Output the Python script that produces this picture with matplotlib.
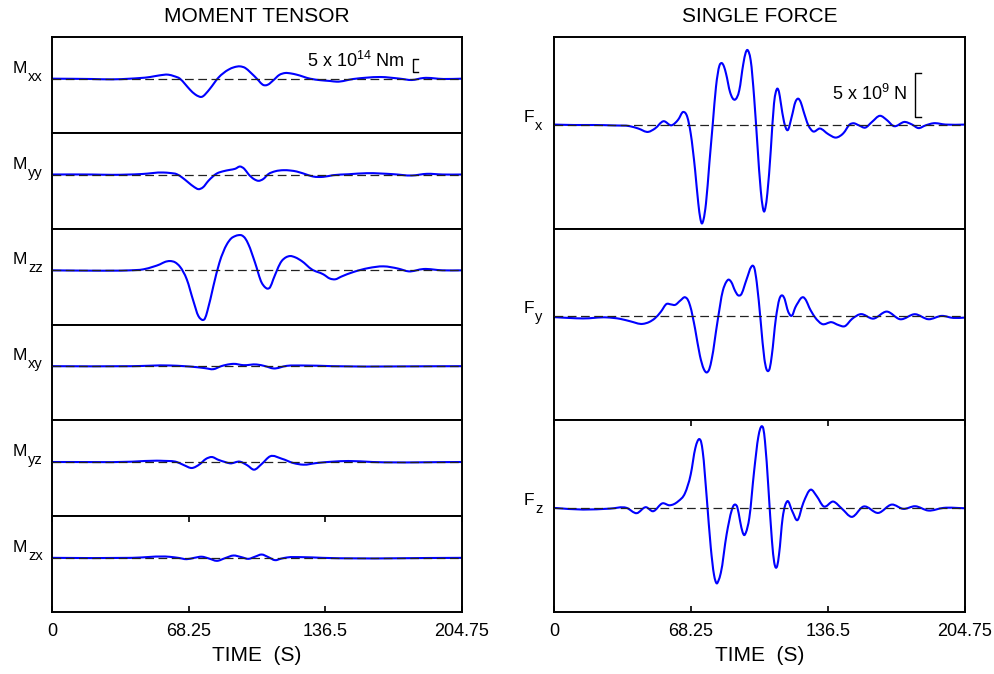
import matplotlib
matplotlib.use('Agg')
import matplotlib.pyplot as plt
import numpy as np
from matplotlib.path import Path
from matplotlib.patches import PathPatch

plt.rcParams['font.family'] = ['Liberation Sans', 'DejaVu Sans']
plt.rcParams['mathtext.fontset'] = 'custom'
plt.rcParams['mathtext.rm'] = 'Liberation Sans'
plt.rcParams['mathtext.it'] = 'Liberation Sans:italic'
plt.rcParams['mathtext.default'] = 'regular'

# eje de tiempo (s)
t_max = 204.75
ticks_t = [0, 68.25, 136.5, 204.75]
ticks_lbl = ['0', '68.25', '136.5', '204.75']

# ---- tensor de momento (unidades 1e14 Nm) ----
t_mxx = [0, 20, 30, 39, 49, 53.5, 58.1, 61, 63.9, 66.5, 68.9, 71.5, 73.3, 74.3, 75.5, 76.8, 78.9, 83.1, 88.1, 91,
         93.9, 96.5, 98.9, 103.1, 105.2, 106.4, 107.8, 110.5, 113.5, 116.4, 119.3, 122.2, 128.9, 134, 138.9, 142.2,
         150.5, 157, 163.8, 173.8, 179.7, 185.5, 195.5, 204.75]
a_mxx = [0, -0.13, -0.27, 0, 0.67, 1.3, 1.6, 1.0, 0, -2.2, -4.4, -6.3, -7.1, -7.33, -7.0, -6.0, -4.0, 0.4, 3.6, 4.6,
         4.93, 4.3, 2.67, -0.67, -2.4, -2.67, -2.4, -0.67, 1.5, 2.27, 2.1, 1.6, 0, -0.6, -0.93, -1.2,
         -0.13, 0.4, 0.67, 0, -0.53, 0.27, -0.13, 0]

t_myy = [0, 20, 30, 45, 55.6, 59, 62.3, 65, 68.1, 71, 73.1, 75.3, 78.1, 82.3, 85.5, 88.9, 91.5, 93.9, 96, 98.1,
         101, 103.1, 105.5, 108.0, 111.5, 115.5, 119, 122.2, 128.0, 130.4, 135.5, 140.4, 148, 157.2, 170.3, 179.7,
         187.2, 195, 204.75]
a_myy = [0, 0, -0.13, 0.2, 0.8, 0.6, 0.13, -1.2, -3.2, -5.0, -5.87, -5.2, -2.53, 0.4, 1.3, 1.87, 2.3, 3.2, 2.3, 0.13,
         -1.9, -2.53, -1.8, 0.13, 1.3, 1.73, 1.6, 1.2, -0.27, -0.8, -0.93, -0.27, 0.1, 0.53, 0.13, -0.4,
         0.27, 0, 0]

t_mzz = [0, 20, 30, 39, 45.6, 50.6, 53.9, 56.5, 58.9, 61.5, 63.9, 67.3, 70.6, 73.1, 74.3, 75.3, 76.3, 77.6, 80.6,
         83.6, 87.3, 89.5, 91.4, 93.1, 94.8, 96.5, 98.1, 101.4, 104.7, 106.3, 107.6, 108.9, 110.5, 114.7, 116.8,
         118.9, 121.5, 124.7, 129.7, 135.5, 138.9, 141.4, 144.5, 150.5, 158, 165.5, 173, 178, 185.5, 195, 204.75]
a_mzz = [0, -0.13, -0.13, 0, 0.4, 1.47, 2.4, 3.4, 3.73, 3.2, 1.47, -3.6, -12.3, -18.3, -19.5, -19.9, -19.4, -16.3,
         -6.27, 3.07, 10.4, 12.8, 13.7, 14.1, 14.0, 12.8, 10.4, 3.07, -4.93, -6.7, -7.33, -6.8, -3.6, 3.73, 5.2,
         5.73, 5.2, 3.73, 0.4, -1.6, -3.33, -3.6, -2.5, -0.67, 0.9, 1.6, 0.67, -0.4, 0.53, 0, 0]

t_mxy = [0, 40, 58.9, 66, 72.3, 76.5, 80.6, 84.5, 88.9, 90.6, 95.6, 102.2, 106.5, 110.5, 117.2, 125, 140, 204.75]
a_mxy = [0, 0, 0.27, 0, -0.4, -0.8, -1.2, 0, 0.8, 0.93, 0.4, 0.67, 0, -0.9, 0.13, 0.27, 0, 0]

t_myz = [0, 40, 52.3, 56, 62.3, 66, 69.8, 73.9, 76.8, 79.8, 83, 86.4, 88.9, 93.9, 97.5, 100.9, 104.7, 108.9, 114.7,
         120.5, 125.5, 132.2, 140, 148, 160, 204.75]
a_myz = [0, 0.13, 0.53, 0.45, 0, -1.3, -2.4, -0.8, 1.2, 2.0, 0.9, 0, -0.53, 0.13, -1.3, -3.07, -0.8, 2.27, 1.33,
         -0.4, -1.07, -0.4, 0.13, 0.4, 0, 0]

t_mzx = [0, 40, 58.9, 63, 67.3, 71, 74.8, 78.5, 82.3, 86.5, 90.6, 94.5, 98.1, 101.5, 104.7, 108, 111.4, 114.5, 117.2,
         125, 135, 204.75]
a_mzx = [0, 0, 0.4, 0, -0.53, 0, 0.45, -0.3, -1.2, -0.1, 0.93, 0.3, -0.4, 0.5, 1.33, 0.3, -0.93, -0.3, 0.13,
         0.27, 0, 0]

# ---- fuerza simple (unidades 1e9 N) ----
t_fx = [0, 10, 20, 30, 37.9, 42, 47.0, 50.3, 54.5, 58.6, 61.9, 64.4, 66.4, 68.1, 70.3, 71.9, 72.9, 73.6, 74.5, 75.7,
        77.4, 79.1, 80.7, 82.4, 83.6, 84.7, 85.7, 87.7, 90.2, 92.3, 94.3, 95.5, 96.3, 97.1, 98.0, 99.7, 101.3, 103.0,
        104.0, 104.6, 105.3, 106.3, 108.0, 109.6, 110.5, 111.3, 112.1, 112.9, 114.6, 116.4, 118.4, 120.3, 121.7,
        123.0, 124.2, 126.7, 128.9, 132.5, 136.7, 140.5, 144.1, 147.5, 149.1, 152, 155, 158.4, 162.4, 165.9, 169,
        174.9, 178.4, 181.5, 185, 189, 195, 204.75]
a_fx = [0, -0.05, -0.05, -0.1, -0.19, -0.45, -0.83, -0.45, 0.38, -0.08, 0.57, 1.44, 0.87, -1.0, -5.2, -9.0, -10.7,
        -11.25, -10.8, -9.0, -4.4, 0.1, 4.3, 6.7, 7.0, 6.6, 5.8, 3.7, 2.84, 3.9, 6.9, 8.2, 8.5, 8.2, 7.3, 3.1, -2.2,
        -7.5, -9.4, -9.9, -9.5, -7.8, -2.9, 2.4, 3.7, 4.1, 3.7, 2.6, 0.3, -0.64, 0.87, 2.6, 2.95, 2.5, 1.6, -0.08,
        -0.76, -0.45, -1.1, -1.48, -1.0, 0.04, 0.15, -0.1, -0.35, 0.3, 1.0, 0.5, -0.15, 0.3, 0, -0.4, -0.1, 0.15,
        0, 0]

t_fy = [0, 8, 14.5, 26.2, 33, 37.9, 44.2, 47.5, 50.3, 53.2, 56.1, 58.2, 60.3, 63, 65.3, 66.6, 67.8, 70.3, 72.7, 74.6,
        76.1, 77.4, 78.6, 81.4, 84.1, 85.8, 86.9, 88.3, 90.2, 91.6, 93.0, 96.0, 98.2, 99.0, 99.8, 101.0, 103.0, 104.8,
        105.8, 106.6, 107.5, 108.5, 110.5, 112.3, 113.9, 115.0, 116.2, 118.6, 120.2, 121.7, 123.0, 124.2, 125.6,
        127.1, 130.0, 133.4, 138.4, 141.7, 144.8, 148.5, 152.5, 159.1, 165.8, 172.4, 179.9, 186.5, 193.2, 198.9,
        204.75]
a_fy = [-0.1, -0.2, -0.25, -0.13, -0.3, -0.57, -0.87, -0.65, -0.23, 0.5, 1.4, 1.35, 1.29, 1.8, 2.16, 1.9, 1.2, -1.44,
        -4.5, -6.0, -6.4, -6.0, -4.85, -0.68, 2.9, 3.9, 4.17, 3.9, 2.9, 2.4, 2.42, 4.24, 5.6, 5.76, 5.5, 3.86, -0.68,
        -4.85, -6.0, -6.25, -5.9, -4.47, -0.3, 1.97, 2.35, 1.9, 0.83, 0.08, 1.0, 1.6, 2.05, 2.16, 1.8, 1.02, -0.11,
        -0.87, -0.68, -1.0, -1.14, -0.3, 0.23, -0.27, 0.53, -0.34, 0.23, -0.34, 0.04, -0.19, -0.15]

t_fz = [0, 14.5, 27.9, 36.2, 41.2, 45.8, 49.2, 54.2, 57.5, 61.9, 65.3, 68.1, 70.4, 71.5, 72.4, 73.3, 74.1, 76.1, 78.1,
        79.7, 80.4, 81.1, 81.9, 83.1, 86.0, 88.5, 89.4, 90.3, 91.3, 92.7, 94.0, 94.8, 95.6, 97.3, 99.7, 101.8, 102.7,
        103.5, 104.3, 105.1, 106.8, 108.6, 109.7, 110.5, 111.2, 112.1, 113.9, 116.2, 118.7, 121.2, 124.2, 127.9,
        130.9, 134.2, 139.2, 143.4, 148.3, 154.1, 161.6, 168.3, 174.0, 179.9, 186.5, 194, 204.75]
a_fz = [0, -0.19, -0.08, 0, -0.6, 0.08, -0.38, 0.53, 0.3, 0.76, 1.7, 3.8, 6.8, 7.6, 7.84, 7.5, 6.4, 1.14, -4.5, -7.6,
        -8.3, -8.6, -8.3, -7.4, -3.0, -0.3, 0.25, 0.38, 0.1, -1.5, -2.8, -3.1, -2.8, -1.14, 4.2, 8.1, 9.0, 9.3, 9.0,
        7.6, 2.3, -3.8, -6.2, -6.8, -6.6, -5.3, -1.14, 0.76, -0.38, -1.4, 0.57, 2.08, 1.33, 0.19, 0.72, -0.08,
        -1.02, 0.15, -0.57, 0.38, -0.11, 0.19, -0.3, 0, -0.04]

mt_names = [('M', 'xx'), ('M', 'yy'), ('M', 'zz'), ('M', 'xy'), ('M', 'yz'), ('M', 'zx')]
mt_t = [t_mxx, t_myy, t_mzz, t_mxy, t_myz, t_mzx]
mt_a = [a_mxx, a_myy, a_mzz, a_mxy, a_myz, a_mzx]
sf_names = [('F', 'x'), ('F', 'y'), ('F', 'z')]
sf_t = [t_fx, t_fy, t_fz]
sf_a = [a_fx, a_fy, a_fz]

W, H = 995, 674
fig = plt.figure(figsize=(W / 100, H / 100), dpi=100)


def traza_suave(ax, t, a, **kw):
    # linea que pasa por los puntos leidos, dibujada con curvas de Bezier (Hermite)
    t = np.asarray(t, float)
    a = np.asarray(a, float)
    m = np.gradient(a, t)
    verts = [(t[0], a[0])]
    codes = [Path.MOVETO]
    for i in range(len(t) - 1):
        dt = t[i + 1] - t[i]
        verts += [(t[i] + dt / 3, a[i] + m[i] * dt / 3),
                  (t[i + 1] - dt / 3, a[i + 1] - m[i + 1] * dt / 3),
                  (t[i + 1], a[i + 1])]
        codes += [Path.CURVE4] * 3
    ax.add_patch(PathPatch(Path(verts, codes), fill=False, joinstyle='round', capstyle='round', **kw))


def panel(x0, y0, w, h, t, a, ylim, nombre, off_main, off_sub, bottom):
    ax = fig.add_axes([x0 / W, 1 - (y0 + h) / H, w / W, h / H])
    traza_suave(ax, t, a, edgecolor='#0000ff', lw=1.5, zorder=2)
    ax.axhline(0, color='#222222', lw=0.9, ls=(0, (7, 3.6)), zorder=3)
    ax.set_xlim(0, t_max)
    ax.set_ylim(*ylim)
    ax.set_yticks([])
    for s in ax.spines.values():
        s.set_linewidth(1.4)
    if bottom:
        ax.set_xticks(ticks_t)
        ax.set_xticklabels(ticks_lbl, fontsize=13)
        ax.tick_params(axis='x', direction='in', top=True, length=4, width=1.2, pad=8)
        ax.set_xlabel('TIME  (S)', fontsize=15, labelpad=4)
    else:
        ax.set_xticks([])
    ax.annotate(nombre[0], xy=(0, 0), xycoords=('axes fraction', 'data'), xytext=off_main,
                textcoords='offset pixels', ha='left', va='baseline', fontsize=12.5, annotation_clip=False)
    ax.annotate(nombre[1], xy=(0, 0), xycoords=('axes fraction', 'data'), xytext=off_sub,
                textcoords='offset pixels', ha='left', va='baseline', fontsize=10.5, annotation_clip=False)
    return ax


top = 37
total = 575
hl = total / 6
hr = total / 3
ylim_m = (-21.7, 16.7)
ylim_f = (-11.85, 9.97)

axes_m = []
for i in range(6):
    axes_m.append(panel(52, top + i * hl, 410, hl, mt_t[i], mt_a[i], ylim_m, mt_names[i],
                        (-39, 6), (-24, -2), i == 5))
axes_f = []
for i in range(3):
    axes_f.append(panel(554, top + i * hr, 411, hr, sf_t[i], sf_a[i], ylim_f, sf_names[i],
                        (-30, 3), (-19, -5), i == 2))

# barras de escala
ax = axes_m[0]
ax.plot([182.8, 180.3, 180.3, 182.8], [7.7, 7.7, 2.7, 2.7], color='k', lw=1)
ax.text(176.3, 4.8, '5 x 10$^{14}$ Nm', ha='right', va='baseline', fontsize=13)
ax = axes_f[0]
ax.plot([182.9, 179.9, 179.9, 182.9], [5.9, 5.9, 0.9, 0.9], color='k', lw=1)
ax.text(175.9, 2.8, '5 x 10$^{9}$ N', ha='right', va='baseline', fontsize=13)

fig.text((52 + 205) / W, 1 - 17 / H, 'MOMENT TENSOR', ha='center', va='center', fontsize=15)
fig.text((554 + 205.5) / W, 1 - 17 / H, 'SINGLE FORCE', ha='center', va='center', fontsize=15)

fig.savefig('out.png', dpi=100)
